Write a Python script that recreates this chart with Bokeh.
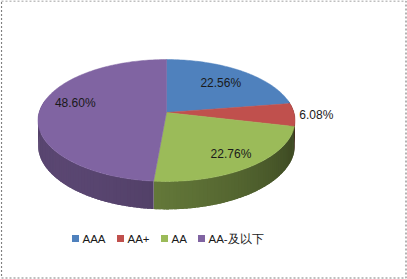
import math

from bokeh.core.properties import value
from bokeh.embed import file_html
from bokeh.models import Range1d
from bokeh.plotting import figure
from bokeh.resources import INLINE

# Rating mix (percent of total)
categories = ["AAA", "AA+", "AA", "AA-及以下"]
shares = [22.56, 6.08, 22.76, 48.60]
colors = ["#4F81BD", "#C0504D", "#9BBB59", "#8064A2"]

# label placement: fraction of radius along the mid-angle, plus vertical nudge
label_radius = [0.70, 1.17, 0.79, 0.72]
label_nudge = [0, 0, 0, -8]

# legend layout (pixel x of each swatch)
legend_x = [75, 120, 164, 201]
legend_y = 238

W, H = 407, 279
CX, CY = 166.0, 112.0      # projected pie centre
A, B = 127.4, 59.9         # horizontal / depth semi-axes
K = 0.131                  # perspective strength
DEPTH = 24.3               # thickness of the disc


def proj(r, th, drop=0.0):
    s, c = math.sin(th), math.cos(th)
    w = 1.0 + K * r * c
    return CX + A * r * s / w, CY - B * r * c / w + drop / w


def shade(hex_color, f):
    h = hex_color.lstrip("#")
    rgb = [int(h[i:i + 2], 16) for i in (0, 2, 4)]
    return "#%02x%02x%02x" % tuple(max(0, min(255, int(round(v * f)))) for v in rgb)


p = figure(width=W, height=H, x_range=Range1d(0, W), y_range=Range1d(H, 0),
           output_backend="svg", toolbar_location=None, min_border=0)
p.axis.visible = False
p.grid.visible = False
p.outline_line_color = None
p.background_fill_color = "white"
p.border_fill_color = "white"

total = sum(shares)
bounds = [0.0]
for v in shares:
    bounds.append(bounds[-1] + v / total * 2 * math.pi)

# side wall of the disc: thin shaded strips that overlap slightly so no seams show
sx, sy, sc = [], [], []
overlap = math.radians(1.2)
for i in range(len(shares)):
    t0, t1 = bounds[i], bounds[i + 1]
    n = max(2, int((t1 - t0) / math.radians(1.5)))
    for j in range(n):
        a0 = t0 + (t1 - t0) * j / n
        a1 = t0 + (t1 - t0) * (j + 1) / n
        am = 0.5 * (a0 + a1)
        if math.cos(am) > 0.2:
            continue
        a1e = min(t1, a1 + overlap)
        f = 0.5 + 0.2 * math.cos(am - math.radians(230))
        pts_top = [proj(1, a0 + (a1e - a0) * k / 3) for k in range(4)]
        pts_bot = [proj(1, a0 + (a1e - a0) * k / 3, DEPTH) for k in range(3, -1, -1)]
        pts = pts_top + pts_bot
        sx.append([q[0] for q in pts])
        sy.append([q[1] for q in pts])
        sc.append(shade(colors[i], f))
p.patches(sx, sy, fill_color=sc, line_color=None)

# top face wedges
tx, ty = [], []
for i in range(len(shares)):
    t0, t1 = bounds[i], bounds[i + 1]
    n = max(4, int((t1 - t0) / math.radians(1)))
    xs, ys = [CX], [CY]
    for j in range(n + 1):
        x, y = proj(1, t0 + (t1 - t0) * j / n)
        xs.append(x)
        ys.append(y)
    tx.append(xs)
    ty.append(ys)
p.patches(tx, ty, fill_color=colors, line_color=colors, line_width=0.5)

# percentage labels
lx, ly, lt = [], [], []
for i, v in enumerate(shares):
    mid = 0.5 * (bounds[i] + bounds[i + 1])
    x, y = proj(label_radius[i], mid)
    lx.append(x)
    ly.append(y + label_nudge[i])
    lt.append(f"{v:.2f}%")
p.text(lx, ly, text=lt, text_font=value("Liberation Sans"), text_font_size="12px",
       text_color="#1a1a1a", text_align="center", text_baseline="middle")

# legend
p.rect(legend_x, [legend_y] * 4, width=7, height=7, fill_color=colors, line_color=None)
p.text([x + 7 for x in legend_x], [legend_y] * 4, text=categories,
       text_font=value("Liberation Sans"), text_font_size="11.5px", text_color="#1a1a1a",
       text_align="left", text_baseline="middle")

# dotted chart-area border
p.quad(left=[1], right=[405.5], top=[0.5], bottom=[277.5], fill_color=None,
       line_color="#808080", line_width=1.2, line_dash="2 2")

open("out.html", "w").write(file_html(p, INLINE))
